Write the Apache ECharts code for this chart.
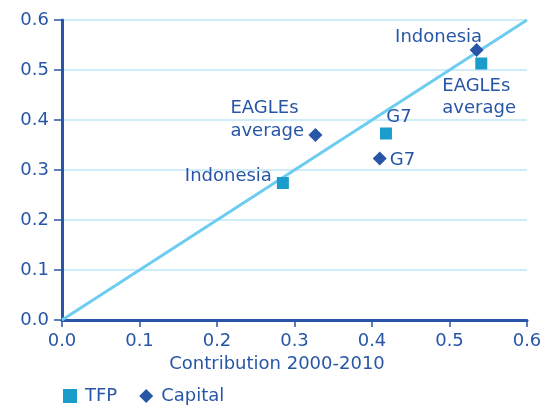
<!DOCTYPE html>
<html><head><meta charset="utf-8">
<script src="https://cdn.jsdelivr.net/npm/echarts@6/dist/echarts.min.js"></script>
<style>html,body{margin:0;padding:0;background:#fff}#c{width:557px;height:410px}</style>
</head><body><div id="c"></div>
<script>
const names = ['Indonesia', 'G7', 'EAGLEs\naverage'];
const tfpX = [0.285, 0.418, 0.541];
const tfpY = [0.274, 0.373, 0.513];
const capX = [0.535, 0.410, 0.327];
const capY = [0.540, 0.323, 0.370];
const xTicks = [0.0, 0.1, 0.2, 0.3, 0.4, 0.5, 0.6];
const yTicks = [0.0, 0.1, 0.2, 0.3, 0.4, 0.5, 0.6];
const lineX = [0, 0.6];

const dark = '#2856a6', light = '#1c9ccb';
const font = 'DejaVu Sans';
const fs = 18;
const tfpLabels = [
  {position: 'left', distance: 5, offset: [0, -7]},
  {position: 'top', distance: -1, offset: [13, 0]},
  {position: 'bottom', distance: 6, offset: [-39, 0], align: 'left'}
];
const capLabels = [
  {position: 'top', distance: 0, offset: [-38, 6]},
  {position: 'right', distance: 3, offset: [0, 2]},
  {position: 'left', distance: 2, offset: [-76, -15], align: 'left'}
];
const chart = echarts.init(document.getElementById('c'), null, {renderer: 'canvas'});
chart.setOption({
  animation: false,
  textStyle: {fontFamily: font},
  grid: {left: 62, right: 30, top: 20, bottom: 90},
  xAxis: {
    type: 'value', min: 0, max: 0.6, interval: 0.1,
    name: 'Contribution 2000-2010', nameLocation: 'middle', nameGap: 35,
    nameTextStyle: {color: dark, fontSize: fs, fontFamily: font, padding: [0, 35, 0, 0]},
    axisLine: {lineStyle: {color: dark, width: 3}},
    axisTick: {show: true, length: 7, lineStyle: {color: dark, width: 1.5}},
    axisLabel: {color: dark, fontSize: fs, fontFamily: font, margin: 12, formatter: v => v.toFixed(1)},
    splitLine: {show: false}
  },
  yAxis: {
    type: 'value', min: 0, max: 0.6, interval: 0.1,
    axisLine: {show: true, lineStyle: {color: dark, width: 3}},
    axisTick: {show: true, length: 8, lineStyle: {color: dark, width: 1.5}},
    axisLabel: {color: dark, fontSize: fs, fontFamily: font, margin: 13, formatter: v => v.toFixed(1)},
    splitLine: {show: true, lineStyle: {color: '#bfe6f7', width: 1.5}}
  },
  legend: {
    left: 58, bottom: 0, itemWidth: 14, itemHeight: 14, itemGap: 22,
    textStyle: {color: dark, fontSize: fs, fontFamily: font, padding: [0, 0, 0, 3]},
    data: [{name: 'TFP', icon: 'rect'}, {name: 'Capital', icon: 'diamond'}]
  },
  series: [
    {
      type: 'line', name: 'diag', data: lineX.map(v => [v, v]), symbol: 'none',
      lineStyle: {color: '#6ccdf1', width: 3}, silent: true, z: 1
    },
    {
      type: 'scatter', name: 'TFP', symbol: 'rect', symbolSize: 12,
      itemStyle: {color: light, opacity: 1}, z: 3,
      data: tfpX.map((x, i) => ({value: [x, tfpY[i]], label: Object.assign({
        show: true, formatter: names[i], color: dark, fontSize: fs, fontFamily: font, lineHeight: 22
      }, tfpLabels[i])}))
    },
    {
      type: 'scatter', name: 'Capital', symbol: 'diamond', symbolSize: 14,
      itemStyle: {color: dark, opacity: 1}, z: 4,
      data: capX.map((x, i) => ({value: [x, capY[i]], label: Object.assign({
        show: true, formatter: names[i], color: dark, fontSize: fs, fontFamily: font, lineHeight: 23
      }, capLabels[i])}))
    }
  ]
});
</script></body></html>
